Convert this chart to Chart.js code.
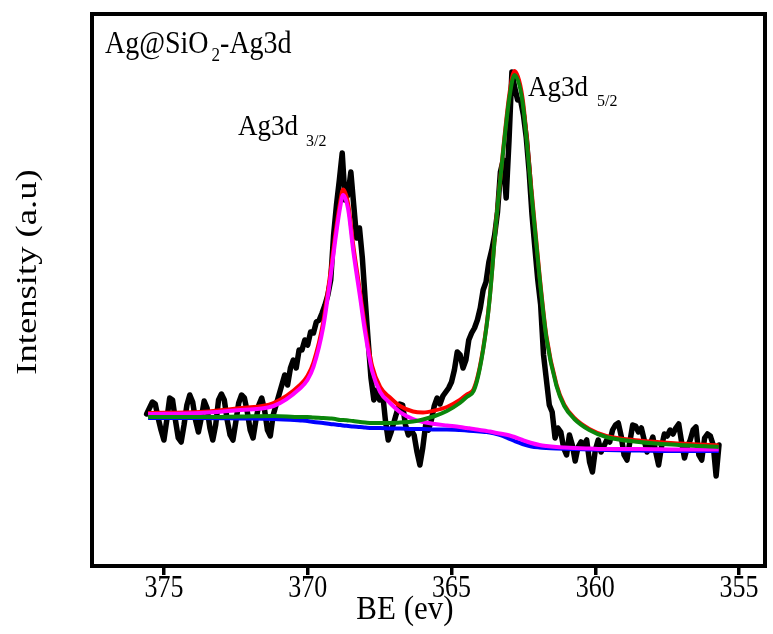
<!DOCTYPE html>
<html>
<head>
<meta charset="utf-8">
<title>Ag@SiO2 - Ag3d XPS</title>
<script src="https://cdn.jsdelivr.net/npm/chart.js@4.4.1/dist/chart.umd.min.js"></script>
<style>
  html, body { margin: 0; padding: 0; background: #fff; }
  #wrap { width: 773px; height: 634px; }
</style>
</head>
<body>
<div id="wrap"><canvas id="xps" width="773" height="634"></canvas></div>
<script>
// axis setup (binding energy runs right to left)
const xTickValues = [375, 370, 365, 360, 355];
const xRange = [354.1, 377.5];
const yRange = [0, 552];

// measured spectrum, 0.1 eV channels
const rawBE = [
  375.6,375.5,375.4,375.3,375.2,375.1,375.0,374.9,374.8,374.7,
  374.6,374.5,374.4,374.3,374.2,374.1,374.0,373.9,373.8,373.7,
  373.6,373.5,373.4,373.3,373.2,373.1,373.0,372.9,372.8,372.7,
  372.6,372.5,372.4,372.3,372.2,372.1,372.0,371.9,371.8,371.7,
  371.6,371.5,371.4,371.3,371.2,371.1,371.0,370.9,370.8,370.7,
  370.6,370.5,370.4,370.3,370.2,370.1,370.0,369.9,369.8,369.7,
  369.6,369.5,369.4,369.3,369.2,369.1,369.0,368.9,368.8,368.7,
  368.6,368.5,368.4,368.3,368.2,368.1,368.0,367.9,367.8,367.7,
  367.6,367.5,367.4,367.3,367.2,367.1,367.0,366.9,366.8,366.7,
  366.6,366.5,366.4,366.3,366.2,366.1,366.0,365.9,365.8,365.7,
  365.6,365.5,365.4,365.3,365.2,365.1,365.0,364.9,364.8,364.7,
  364.6,364.5,364.4,364.3,364.2,364.1,364.0,363.9,363.8,363.7,
  363.6,363.5,363.4,363.3,363.2,363.1,363.0,362.9,362.8,362.7,
  362.6,362.5,362.4,362.3,362.2,362.1,362.0,361.9,361.8,361.7,
  361.6,361.5,361.4,361.3,361.2,361.1,361.0,360.9,360.8,360.7,
  360.6,360.5,360.4,360.3,360.2,360.1,360.0,359.9,359.8,359.7,
  359.6,359.5,359.4,359.3,359.2,359.1,359.0,358.9,358.8,358.7,
  358.6,358.5,358.4,358.3,358.2,358.1,358.0,357.9,357.8,357.7,
  357.6,357.5,357.4,357.3,357.2,357.1,357.0,356.9,356.8,356.7,
  356.6,356.5,356.4,356.3,356.2,356.1,356.0,355.9,355.8,355.7
];
const rawCounts = [
  152,158,164,162,148,136,126,146,168,166,
  146,128,124,141,161,171,164,146,134,148,
  165,158,138,126,141,166,172,166,146,131,
  126,144,163,171,168,154,136,128,146,161,
  168,156,136,130,151,161,171,181,191,181,
  198,206,198,216,216,226,221,234,233,244,
  246,253,261,271,286,331,361,386,413,366,
  371,394,361,328,338,308,266,226,188,166,
  176,166,174,146,126,134,144,154,162,161,
  141,131,136,131,114,101,118,141,136,146,
  160,168,162,170,174,178,184,196,214,211,
  198,206,226,233,238,246,258,276,284,304,
  316,331,354,394,406,368,426,494,478,466,
  466,451,428,394,351,318,286,261,211,186,
  161,154,128,138,134,118,111,131,121,105,
  119,124,121,126,104,94,116,126,114,120,
  126,124,136,141,143,130,111,106,124,141,
  140,134,138,126,114,121,129,114,101,119,
  132,130,136,132,138,142,124,108,119,126,
  136,139,111,106,128,132,130,121,90,121
];

// fitted curves
const fitBE = [
  375.55,373.72,372.33,371.19,370.25,370.01,369.80,369.46,369.22,369.04,
  368.87,368.77,368.59,368.42,368.18,368.00,367.76,367.48,367.14,366.79,
  366.34,365.99,365.58,365.16,364.71,364.47,364.23,364.02,363.78,363.67,
  363.43,363.22,362.98,362.81,362.53,362.22,361.94,361.70,361.35,361.08,
  360.73,360.21,359.62,358.48,357.09,355.71
];
const envelopeFit = [
  153,154,158,163,181.5,190,203.5,244,291.5,331.5,
  364,376.5,361.5,321.5,274,238,200,179,168.5,160,
  154.5,153.5,155.5,159,166,171.5,177,198.5,241,269,
  351,412,473.5,495,468,376.5,291.5,230,181.5,161.3,
  148,137,130,125.5,122.5,120.5
];
const peak32Fit = [
  152,153,156,160,178,186,199,239,286,326,
  359,371,356,316,269,233,195,174,163,154,
  147,144,142,140.5,139,138,137,136,135,134.5,
  133,132,130.5,129,126,123,121,120,119,118.5,
  118,117.5,117,117,116.5,116.5
];
const peak52Fit = [
  149,149,149.5,150,149,149,148.5,148,147.5,147,
  146,146,145.5,145,144,143.5,143,143,143,143.5,
  144.5,146.5,150,155,163,169,175,197,240,268,
  350,410,470,491,464,373,289,228,180,160,
  147,136,129,124,121,119
];
const backgroundFit = [
  148,148,147.5,147,145.5,145,144,143,142,141.5,
  141,140.5,140,139.5,139,138.5,138,138,137.5,137.5,
  137,137,136.5,136.5,136,135.5,135,134.5,134,133.5,
  132,130,127,125,122,119.5,118.5,118,117.5,117.2,
  117,116.5,116,115.5,115,115
];

const SERIF = '"Liberation Serif", "Times New Roman", serif';

function pts(xs, ys){ return xs.map((x, i) => ({ x, y: ys[i] })); }

// text in the original figure is slightly taller than wide
function drawText(ctx, txt, x, y, size, align, stretch, rotate){
  ctx.save();
  ctx.translate(x, y);
  if(rotate){ ctx.rotate(-Math.PI / 2); ctx.scale(stretch, 1); }
  else ctx.scale(1, stretch);
  ctx.font = size + 'px ' + SERIF;
  ctx.textAlign = align;
  ctx.textBaseline = 'alphabetic';
  ctx.fillStyle = '#000';
  ctx.fillText(txt, 0, 0);
  const w = ctx.measureText(txt).width;
  ctx.restore();
  return w;
}

const framePlugin = {
  id: 'frame',
  afterDraw(chart){
    const { ctx, chartArea: a } = chart;
    ctx.save();
    ctx.strokeStyle = '#000';
    ctx.lineWidth = 4;
    ctx.strokeRect(a.left, a.top, a.right - a.left, a.bottom - a.top);
    ctx.restore();

    // tick labels
    const sx = chart.scales.x;
    sx.ticks.forEach(t => {
      drawText(ctx, String(t.value), sx.getPixelForValue(t.value), 597, 26, 'center', 1.22);
    });
    // axis titles
    drawText(ctx, 'BE (ev)', 405, 619, 31, 'center', 1.1);
    drawText(ctx, 'Intensity (a.u)', 36, 272, 30, 'center', 1.22, true);

    // sample name
    let x = 105;
    x += drawText(ctx, 'Ag@SiO', x, 53, 28, 'left', 1.1);
    x += 3;
    x += drawText(ctx, '2', x, 61, 17, 'left', 1.1);
    drawText(ctx, '-Ag3d', x, 53, 28, 'left', 1.1);

    // peak labels
    drawText(ctx, 'Ag3d', 238, 135, 27, 'left', 1.1);
    drawText(ctx, '3/2', 306, 146, 16, 'left', 1.1);
    drawText(ctx, 'Ag3d', 528, 96, 27, 'left', 1.1);
    drawText(ctx, '5/2', 597, 106, 16, 'left', 1.1);
  }
};

const fitStyle = { borderWidth: 4, pointRadius: 0, fill: false, cubicInterpolationMode: 'monotone' };

new Chart(document.getElementById('xps'), {
  type: 'line',
  data: {
    datasets: [
      Object.assign({ label: 'Ag3d5/2', data: pts(fitBE, peak52Fit), borderColor: '#0b860b', order: 1 }, fitStyle),
      Object.assign({ label: 'Ag3d3/2', data: pts(fitBE, peak32Fit), borderColor: '#ff00ff', order: 2 }, fitStyle),
      Object.assign({ label: 'Envelope', data: pts(fitBE, envelopeFit), borderColor: '#ff0000', order: 3 }, fitStyle),
      Object.assign({ label: 'Background', data: pts(fitBE, backgroundFit), borderColor: '#0000ff', order: 4 }, fitStyle),
      { label: 'Raw', data: pts(rawBE, rawCounts), borderColor: '#000', borderWidth: 5.5, pointRadius: 0,
        tension: 0, borderJoinStyle: 'round', borderCapStyle: 'round', order: 5 }
    ]
  },
  options: {
    responsive: false,
    animation: false,
    devicePixelRatio: 1,
    layout: { padding: { left: 92, right: 8, top: 14, bottom: 0 } },
    plugins: { legend: { display: false }, tooltip: { enabled: false } },
    scales: {
      x: {
        type: 'linear', reverse: true, min: xRange[0], max: xRange[1],
        afterBuildTicks: s => { s.ticks = xTickValues.map(v => ({ value: v })); },
        afterFit: s => { s.height = 68; },
        ticks: { display: false },
        grid: { drawOnChartArea: false, drawTicks: true, tickLength: 9, lineWidth: 3.5, color: '#000' },
        border: { display: false }
      },
      y: { display: false, min: yRange[0], max: yRange[1] }
    }
  },
  plugins: [framePlugin]
});
</script>
</body>
</html>
